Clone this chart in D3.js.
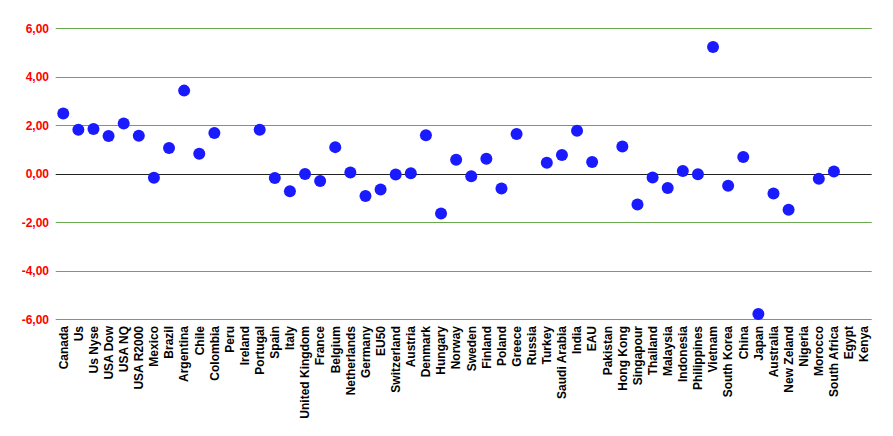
<!DOCTYPE html>
<html><head><meta charset="utf-8">
<script src="https://cdn.jsdelivr.net/npm/d3@7"></script>
<style>body{margin:0;background:#fff}svg{display:block}</style>
</head><body><svg id="c" width="893" height="436"></svg>
<script>
const categories = ["Canada","Us","Us Nyse","USA Dow","USA NQ","USA R2000","Mexico","Brazil","Argentina","Chile","Colombia","Peru","Ireland","Portugal","Spain","Italy","United Kingdom","France","Belgium","Netherlands","Germany","EU50","Switzerland","Austria","Denmark","Hungary","Norway","Sweden","Finland","Poland","Greece","Russia","Turkey","Saudi Arabia","India","EAU","Pakistan","Hong Kong","Singapour","Thailand","Malaysia","Indonesia","Philippines","Vietnam","South Korea","China","Japan","Australia","New Zeland","Nigeria","Morocco","South Africa","Egypt","Kenya"];
const values = [2.49,1.82,1.85,1.56,2.07,1.57,-0.16,1.06,3.43,0.83,1.68,null,null,1.82,-0.17,-0.72,-0.01,-0.30,1.10,0.05,-0.92,-0.65,-0.03,0.02,1.59,-1.64,0.58,-0.10,0.62,-0.61,1.64,null,0.46,0.78,1.78,0.49,null,1.13,-1.27,-0.15,-0.59,0.12,-0.02,5.23,-0.49,0.69,-5.78,-0.81,-1.48,null,-0.20,0.09,null,null];
const yTicks = [-6,-4,-2,0,2,4,6];

const svg = d3.select("#c");
const x = d3.scaleBand().domain(categories).range([55.7, 871.7]);
const y = d3.scaleLinear().domain([-6, 6]).range([319.3, 28.3]);

// gridlines
svg.append("g").selectAll("line").data(yTicks).join("line")
  .attr("x1", 55.7).attr("x2", 871.7)
  .attr("y1", d => Math.round(y(d)) + 0.5).attr("y2", d => Math.round(y(d)) + 0.5)
  .attr("stroke", d => d === 0 ? "#222" : "#6aa84f").attr("stroke-width", 1);

// y labels
svg.append("g").selectAll("text").data(yTicks).join("text")
  .attr("x", 49).attr("y", d => y(d) + 4.5)
  .attr("text-anchor", "end")
  .attr("font-family", "Liberation Sans, Arial, sans-serif")
  .attr("font-weight", "bold").attr("font-size", 12).attr("fill", "#ff0000")
  .text(d => d3.format(".2f")(d).replace(".", ",").replace("−", "-"));

// x labels
svg.append("g").selectAll("text").data(categories).join("text")
  .attr("transform", d => `translate(${x(d) + x.bandwidth()/2 + 4.3},326) rotate(-90)`)
  .attr("text-anchor", "end")
  .attr("font-family", "Liberation Sans, Arial, sans-serif")
  .attr("font-weight", "bold").attr("font-size", 12).attr("fill", "#000")
  .text(d => d);

// points
const pts = categories.map((c, i) => ({c, v: values[i]})).filter(d => d.v !== null);
svg.append("g").selectAll("circle").data(pts).join("circle")
  .attr("cx", d => x(d.c) + x.bandwidth()/2)
  .attr("cy", d => y(d.v))
  .attr("r", 6)
  .attr("fill", "#1a1aff");
</script></body></html>
